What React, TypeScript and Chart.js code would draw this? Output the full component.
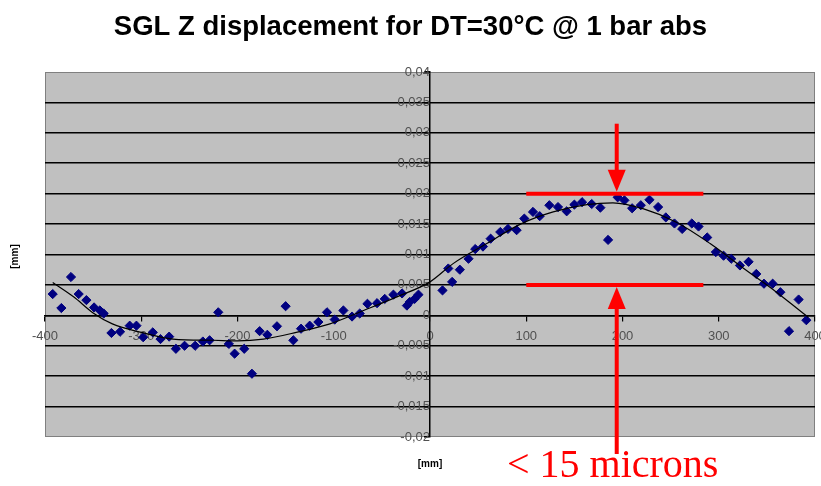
import React, { useEffect, useRef } from "react";
import { Chart, registerables } from "chart.js";

Chart.register(...registerables);

// Measured SGL Z displacement [mm] against position along the ladder [mm]
const positionMm = [
  -392, -383, -373, -365, -357, -349, -343, -339, -331, -322, -312, -305, -298, -288, -280, -271,
  -264, -255, -244, -236, -229, -220, -209, -203, -193, -185, -177, -169, -159, -150, -142, -134,
  -125, -116, -107, -99, -90, -81, -73, -65, -55, -47, -38, -29, -24, -21, -16, -12,
  13, 19, 23, 31, 40, 47, 55, 63, 73, 81, 90, 98, 107, 114, 124, 133,
  142, 150, 158, 168, 177, 185, 195, 202, 210, 219, 228, 237, 245, 254, 262, 272,
  279, 288, 297, 305, 313, 322, 331, 339, 347, 356, 364, 373, 383, 391,
];
const displacementMm = [
  0.0035, 0.0012, 0.0063, 0.0035, 0.0025, 0.0013, 0.0008, 0.0003, -0.0029, -0.0027, -0.0017, -0.0017, -0.0036, -0.0028, -0.0039, -0.0035,
  -0.0055, -0.005, -0.005, -0.0043, -0.0041, 0.0005, -0.0047, -0.0063, -0.0055, -0.0096, -0.0026, -0.0032, -0.0018, 0.0015, -0.0041, -0.0022,
  -0.0017, -0.0011, 0.0005, -0.0007, 0.0008, -0.0002, 0.0003, 0.0019, 0.002, 0.0027, 0.0034, 0.0036, 0.0016, 0.0022, 0.0027, 0.0034,
  0.0041, 0.0077, 0.0055, 0.0075, 0.0093, 0.0109, 0.0113, 0.0126, 0.0137, 0.0142, 0.014, 0.0159, 0.017, 0.0163, 0.0181, 0.0178,
  0.0171, 0.0182, 0.0186, 0.0183, 0.0177, 0.0124, 0.0194, 0.0189, 0.0176, 0.0181, 0.019, 0.0178, 0.0161, 0.0151, 0.0142, 0.0151,
  0.0146, 0.0128, 0.0104, 0.0098, 0.0093, 0.0082, 0.0088, 0.0068, 0.0052, 0.0052, 0.0038, -0.0026, 0.0026, -0.0008,
];

// Polynomial trend through the measurements
const trendPositionMm = [
  -392, -370, -350, -330, -300, -267, -225, -200, -173, -139, -104, -69, -35, 0,
  24, 59, 94, 128, 163, 190, 222, 256, 291, 326, 360, 388, 393,
];
const trendDisplacementMm = [
  0.0054, 0.003, 0.0004, -0.0014, -0.0028, -0.0039, -0.0041, -0.0042, -0.0039, -0.0028, -0.0014, 0.0008, 0.003, 0.0055,
  0.0085, 0.0118, 0.015, 0.017, 0.0182, 0.0185, 0.0175, 0.0153, 0.0118, 0.0077, 0.0038, 0.0003, -0.0003,
];

const xTickValues = [-400, -300, -200, -100, 0, 100, 200, 300, 400];
const xTickLabels = ["-400", "-300", "-200", "-100", "0", "100", "200", "300", "400"];
const yTickValues = [0.04, 0.035, 0.03, 0.025, 0.02, 0.015, 0.01, 0.005, 0, -0.005, -0.01, -0.015, -0.02];
const yTickLabels = ["0,04", "0,035", "0,03", "0,025", "0,02", "0,015", "0,01", "0,005", "0", "-0,005", "-0,01", "-0,015", "-0,02"];

// Flatness band marked over the central section
const bandStart = 100;
const bandEnd = 284;
const bandUpper = 0.02;
const bandLower = 0.005;
const arrowAt = 194;
const arrowUpperFrom = 0.0315;
const arrowLowerFrom = -0.0228;
const bandNote = "< 15 microns";

const titleText = "SGL Z displacement for DT=30°C @ 1 bar abs";
const axisUnit = "[mm]";

const RED = "#ff0000";
const SANS = "Arial, 'Liberation Sans', sans-serif";

function drawArrow(ctx: CanvasRenderingContext2D, x: number, fromY: number, tipY: number) {
  const dir = Math.sign(tipY - fromY);
  const headLen = 22;
  const headHalf = 9;
  const baseY = tipY - dir * headLen;
  ctx.beginPath();
  ctx.moveTo(x, fromY);
  ctx.lineTo(x, baseY + dir * 2);
  ctx.lineWidth = 4;
  ctx.stroke();
  ctx.beginPath();
  ctx.moveTo(x, tipY);
  ctx.lineTo(x - headHalf, baseY);
  ctx.lineTo(x + headHalf, baseY);
  ctx.closePath();
  ctx.fill();
}

const plotDecor = {
  id: "plotDecor",
  beforeDraw(chart: any) {
    const { ctx, chartArea: a } = chart;
    ctx.save();
    ctx.fillStyle = "#ffffff";
    ctx.fillRect(0, 0, chart.width, chart.height);
    ctx.fillStyle = "#c0c0c0";
    ctx.fillRect(a.left, a.top, a.right - a.left, a.bottom - a.top);
    ctx.strokeStyle = "#808080";
    ctx.lineWidth = 1;
    ctx.strokeRect(a.left + 0.5, a.top + 0.5, a.right - a.left - 1, a.bottom - a.top - 1);
    ctx.restore();
  },
  afterDraw(chart: any) {
    const { ctx, chartArea: a } = chart;
    const xs = chart.scales.x;
    const ys = chart.scales.y;

    // chart title, centred on the page
    ctx.save();
    ctx.fillStyle = "#000";
    ctx.font = `bold 27.5px ${SANS}`;
    ctx.textAlign = "center";
    ctx.textBaseline = "alphabetic";
    ctx.fillText(titleText, chart.width / 2, 35);
    ctx.restore();

    // axis unit labels
    ctx.save();
    ctx.fillStyle = "#000";
    ctx.font = `bold 10px ${SANS}`;
    ctx.textAlign = "center";
    ctx.textBaseline = "middle";
    ctx.fillText(axisUnit, xs.getPixelForValue(0), a.bottom + 27);
    ctx.translate(15, (a.top + a.bottom) / 2 + 2);
    ctx.rotate(-Math.PI / 2);
    ctx.fillText(axisUnit, 0, 0);
    ctx.restore();

    // flatness band and arrows
    ctx.save();
    ctx.strokeStyle = RED;
    ctx.fillStyle = RED;
    ctx.lineWidth = 4;
    const x0 = xs.getPixelForValue(bandStart);
    const x1 = xs.getPixelForValue(bandEnd);
    const yU = ys.getPixelForValue(bandUpper);
    const yL = ys.getPixelForValue(bandLower);
    ctx.beginPath();
    ctx.moveTo(x0, yU);
    ctx.lineTo(x1, yU);
    ctx.moveTo(x0, yL);
    ctx.lineTo(x1, yL);
    ctx.stroke();
    const ax = xs.getPixelForValue(arrowAt);
    drawArrow(ctx, ax, ys.getPixelForValue(arrowUpperFrom), yU - 2);
    drawArrow(ctx, ax, ys.getPixelForValue(arrowLowerFrom), yL + 2);

    // note below the plot
    ctx.font = "40px 'Liberation Serif', 'Times New Roman', serif";
    ctx.textAlign = "center";
    ctx.textBaseline = "alphabetic";
    ctx.fillText(bandNote, ax - 4, chart.height - 9);
    ctx.restore();
  },
};

export default function App() {
  const canvasRef = useRef<HTMLCanvasElement | null>(null);

  useEffect(() => {
    const canvas = canvasRef.current;
    if (!canvas) return;

    const measured = positionMm.map((x, i) => ({ x, y: displacementMm[i] }));
    const trend = trendPositionMm.map((x, i) => ({ x, y: trendDisplacementMm[i] }));

    const chart = new Chart(canvas, {
      type: "scatter",
      data: {
        datasets: [
          {
            label: "trend",
            data: trend,
            showLine: true,
            borderColor: "#000000",
            borderWidth: 1.2,
            pointRadius: 0,
            cubicInterpolationMode: "monotone",
            fill: false,
          } as any,
          {
            label: "measured",
            data: measured,
            pointStyle: "rectRot",
            pointRadius: 4.6,
            pointBorderWidth: 1,
            backgroundColor: "#000080",
            borderColor: "#000080",
            showLine: false,
          },
        ],
      },
      options: {
        responsive: false,
        animation: false,
        events: [],
        layout: { padding: { left: 45, right: 6, top: 72, bottom: 49 } },
        plugins: {
          legend: { display: false },
          tooltip: { enabled: false },
          title: { display: false },
        },
        scales: {
          x: {
            type: "linear",
            position: { y: 0 } as any,
            min: -400,
            max: 400,
            afterBuildTicks: (scale: any) => {
              scale.ticks = xTickValues.map((value) => ({ value }));
            },
            afterFit: (scale: any) => {
              scale.paddingLeft = 0;
              scale.paddingRight = 0;
            },
            ticks: {
              autoSkip: false,
              maxRotation: 0,
              padding: 8,
              color: "#505050",
              font: { family: SANS, size: 13 },
              callback: (_v: any, i: number) => xTickLabels[i],
            },
            grid: { drawOnChartArea: false, drawTicks: true, tickLength: 5, color: "#000", lineWidth: 1.2 },
            border: { display: true, color: "#000", width: 1.5 },
          },
          y: {
            type: "linear",
            position: { x: 0 } as any,
            min: -0.02,
            max: 0.04,
            afterBuildTicks: (scale: any) => {
              scale.ticks = yTickValues.map((value) => ({ value }));
            },
            afterFit: (scale: any) => {
              scale.paddingTop = 0;
              scale.paddingBottom = 0;
            },
            ticks: {
              autoSkip: false,
              padding: 6,
              color: "#505050",
              font: { family: SANS, size: 13 },
              callback: (_v: any, i: number) => yTickLabels[i],
            },
            grid: {
              drawTicks: true,
              tickLength: 5,
              lineWidth: 1.6,
              color: (c: any) =>
                c.tick && (c.tick.value === 0.04 || c.tick.value === -0.02) ? "rgba(0,0,0,0)" : "#000",
              tickColor: "#000",
            },
            border: { display: true, color: "#000", width: 1.5 },
          },
        },
      },
      plugins: [plotDecor],
    });

    return () => chart.destroy();
  }, []);

  return (
    <div style={{ position: "fixed", left: 0, top: 0, width: 821, height: 486, background: "#fff" }}>
      <canvas ref={canvasRef} width={821} height={486} style={{ display: "block", width: 821, height: 486 }} />
    </div>
  );
}
